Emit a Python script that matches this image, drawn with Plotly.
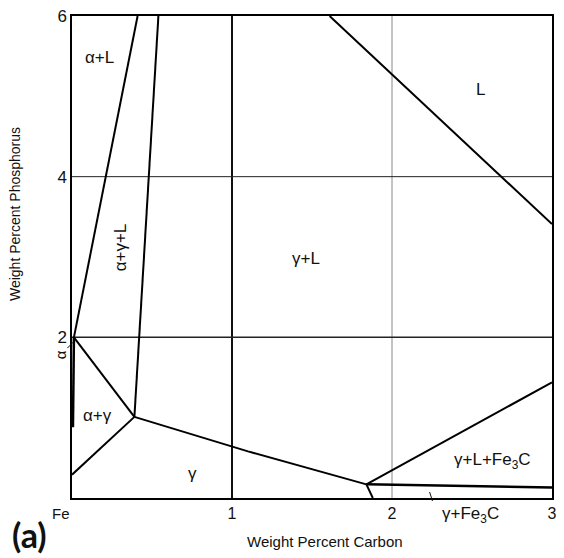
import plotly.graph_objects as go

# Phase boundaries (wt% C, wt% P)
alpha_liq_c, alpha_liq_p = [0.012, 0.41], [2.0, 6.0]
gamma_liq_c, gamma_liq_p = [0.39, 0.54], [1.01, 6.0]
alpha_gamma_top_c, alpha_gamma_top_p = [0.012, 0.39], [2.0, 1.01]
alpha_gamma_bot_c, alpha_gamma_bot_p = [0.0, 0.39], [0.29, 1.01]
alpha_solvus_c, alpha_solvus_p = [0.012, 0.006], [2.0, 0.88]
gamma_solidus_c, gamma_solidus_p = [0.39, 1.10, 1.84], [1.01, 0.58, 0.17]
trough_c, trough_p = [1.84, 3.0], [0.17, 1.44]
cementite_c, cementite_p = [1.84, 3.0], [0.17, 0.13]
gamma_fe3c_c, gamma_fe3c_p = [1.84, 1.88], [0.17, 0.0]
liquidus_c, liquidus_p = [1.61, 3.0], [6.0, 3.41]

x_tickvals = [0, 1, 2, 3]
x_ticktext = ["", "1", "2", "3"]
y_tickvals = [2, 4, 6]
y_ticktext = ["2", "4", "6"]

boundaries = [
    (alpha_liq_c, alpha_liq_p, 2),
    (gamma_liq_c, gamma_liq_p, 2),
    (alpha_gamma_top_c, alpha_gamma_top_p, 2),
    (alpha_gamma_bot_c, alpha_gamma_bot_p, 2),
    (alpha_solvus_c, alpha_solvus_p, 2.5),
    (gamma_solidus_c, gamma_solidus_p, 2),
    (trough_c, trough_p, 2),
    (cementite_c, cementite_p, 2.5),
    (gamma_fe3c_c, gamma_fe3c_p, 2),
    (liquidus_c, liquidus_p, 2),
]

fig = go.Figure()

# grid lines drawn under the boundaries
fig.add_shape(type="line", x0=1, x1=1, y0=0, y1=6, line=dict(color="#111", width=2), layer="below")
fig.add_shape(type="line", x0=2, x1=2, y0=0, y1=6, line=dict(color="#888", width=1), layer="below")
for yv, w in [(2, 1.5), (4, 1)]:
    fig.add_shape(type="line", x0=0, x1=3, y0=yv, y1=yv, line=dict(color="#222", width=w), layer="below")

for c, p, w in boundaries:
    fig.add_trace(go.Scatter(x=c, y=p, mode="lines", line=dict(color="black", width=w),
                             showlegend=False, hoverinfo="skip"))

sans = "Liberation Sans, Arial, sans-serif"
lab_font = dict(family=sans, size=17, color="#111")
labels = [
    (0.17, 5.48, "α+L", 0),
    (0.30, 3.12, "α+γ+L", -90),
    (1.46, 2.98, "γ+L", 0),
    (2.55, 5.08, "L", 0),
    (0.16, 1.03, "α+γ", 0),
    (0.75, 0.31, "γ", 0),
    (2.63, 0.46, "γ+L+Fe<sub>3</sub>C", 0),
]
for x, y, t, ang in labels:
    fig.add_annotation(x=x, y=y, text=t, showarrow=False, textangle=ang, font=lab_font)


def paper_text(x, y, text, size, angle=0, xanchor="center", yanchor="middle", family=sans):
    fig.add_annotation(xref="paper", yref="paper", x=x, y=y, xanchor=xanchor, yanchor=yanchor,
                       text=text, textangle=angle, showarrow=False,
                       font=dict(family=family, size=size, color="#111"))


def leader(x0, y0, x1, y1):
    fig.add_shape(type="line", xref="paper", yref="paper", x0=x0, y0=y0, x1=x1, y1=y1,
                  line=dict(color="#111", width=1))


# labels outside the axes, with short leader lines
paper_text(0.83, -0.036, "γ+Fe<sub>3</sub>C", 17)
leader(0.745, 0.0124, 0.751, -0.0062)
paper_text(-0.025, 0.296, "α", 15, angle=-90)
leader(0.0027, 0.3234, -0.0097, 0.311)

# origin label and axis titles
paper_text(0.0, -0.01, "Fe", 15, xanchor="right", yanchor="top")
paper_text(0.528, -0.091, "Weight Percent Carbon", 15)
paper_text(-0.12, 0.59, "Weight Percent Phosphorus", 14, angle=-90)

paper_text(-0.13, -0.122, "<b>(a)</b>", 34, xanchor="left", yanchor="bottom",
           family="Lato, Open Sans, sans-serif")

fig.update_layout(
    width=564, height=558,
    margin=dict(l=72, r=7, t=15, b=60),
    paper_bgcolor="white", plot_bgcolor="white",
    xaxis=dict(range=[0, 3], tickvals=x_tickvals, ticktext=x_ticktext, showgrid=False, zeroline=False,
               showline=True, linecolor="black", linewidth=1.5, mirror=True, ticks="",
               tickfont=dict(family=sans, size=16, color="#111")),
    yaxis=dict(range=[0, 6], tickvals=y_tickvals, ticktext=y_ticktext, showgrid=False, zeroline=False,
               showline=True, linecolor="black", linewidth=1.5, mirror=True, ticks="",
               tickfont=dict(family=sans, size=17, color="#111")),
)

fig.write_html("out.html")
